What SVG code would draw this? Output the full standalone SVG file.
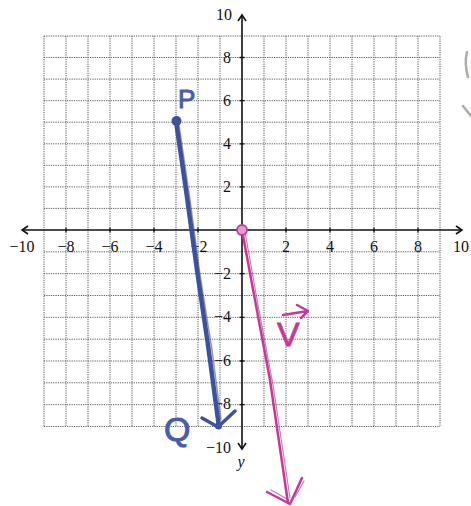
<svg xmlns="http://www.w3.org/2000/svg" width="471" height="506" viewBox="0 0 471 506">
<style>
.grid line{stroke:#5a5a5a;stroke-width:1;stroke-dasharray:1.2 1.1}
.axis{stroke:#111;stroke-width:1.6;fill:none}
.tick{stroke:#111;stroke-width:1.3}
.num{font-family:"Liberation Serif","DejaVu Serif",serif;font-size:16px;fill:#111}
.blue{stroke:#3d519c;fill:none;stroke-linecap:round;stroke-linejoin:round}
.pink{stroke:#c23a98;fill:none;stroke-linecap:round;stroke-linejoin:round}
.hand{font-family:"Liberation Sans","DejaVu Sans",sans-serif}
</style>
<rect width="471" height="506" fill="#fff"/>
<g class="grid" id="grid">
<line x1="44" y1="36" x2="44" y2="426.5"/><line x1="66" y1="36" x2="66" y2="426.5"/><line x1="88" y1="36" x2="88" y2="426.5"/><line x1="110" y1="36" x2="110" y2="426.5"/><line x1="132" y1="36" x2="132" y2="426.5"/><line x1="154" y1="36" x2="154" y2="426.5"/><line x1="176" y1="36" x2="176" y2="426.5"/><line x1="198" y1="36" x2="198" y2="426.5"/><line x1="220" y1="36" x2="220" y2="426.5"/><line x1="264" y1="36" x2="264" y2="426.5"/><line x1="286" y1="36" x2="286" y2="426.5"/><line x1="308" y1="36" x2="308" y2="426.5"/><line x1="330" y1="36" x2="330" y2="426.5"/><line x1="352" y1="36" x2="352" y2="426.5"/><line x1="374" y1="36" x2="374" y2="426.5"/><line x1="396" y1="36" x2="396" y2="426.5"/><line x1="418" y1="36" x2="418" y2="426.5"/><line x1="440" y1="36" x2="440" y2="426.5"/>
<line x1="44" y1="36" x2="440" y2="36"/><line x1="44" y1="57.5" x2="440" y2="57.5"/><line x1="44" y1="79.1" x2="440" y2="79.1"/><line x1="44" y1="100.7" x2="440" y2="100.7"/><line x1="44" y1="122.2" x2="440" y2="122.2"/><line x1="44" y1="143.8" x2="440" y2="143.8"/><line x1="44" y1="165.3" x2="440" y2="165.3"/><line x1="44" y1="186.9" x2="440" y2="186.9"/><line x1="44" y1="208.4" x2="440" y2="208.4"/>
<line x1="44" y1="251.8" x2="440" y2="251.8"/><line x1="44" y1="273.7" x2="440" y2="273.7"/><line x1="44" y1="295.5" x2="440" y2="295.5"/><line x1="44" y1="317.3" x2="440" y2="317.3"/><line x1="44" y1="339.2" x2="440" y2="339.2"/><line x1="44" y1="361" x2="440" y2="361"/><line x1="44" y1="382.8" x2="440" y2="382.8"/><line x1="44" y1="404.7" x2="440" y2="404.7"/><line x1="44" y1="426.5" x2="440" y2="426.5"/>
</g>
<g id="axes">
<line class="axis" x1="22" y1="230" x2="462" y2="230"/>
<line class="axis" x1="242" y1="15" x2="242" y2="449"/>
<path class="axis" d="M28 226 L22 230 L28 234 M456 226 L462 230 L456 234 M238 21 L242 15 L246 21 M238 443 L242 449 L246 443"/>
<path class="tick" d="M66 227.5v5M110 227.5v5M154 227.5v5M198 227.5v5M286 227.5v5M330 227.5v5M374 227.5v5M418 227.5v5M239.5 57.5h5M239.5 100.7h5M239.5 143.8h5M239.5 186.9h5M239.5 273.7h5M239.5 317.3h5M239.5 361h5M239.5 404.7h5"/>
</g>
<g id="axis-labels" class="num">
<text x="22" y="252" text-anchor="middle">−10</text>
<text x="66" y="252" text-anchor="middle">−8</text>
<text x="110" y="252" text-anchor="middle">−6</text>
<text x="154" y="252" text-anchor="middle">−4</text>
<text x="199" y="252" text-anchor="middle">−2</text>
<text x="286" y="252" text-anchor="middle">2</text>
<text x="330" y="252" text-anchor="middle">4</text>
<text x="374" y="252" text-anchor="middle">6</text>
<text x="418" y="252" text-anchor="middle">8</text>
<text x="461" y="252" text-anchor="middle">10</text>
<text x="232" y="20" text-anchor="end">10</text>
<text x="231" y="63" text-anchor="end">8</text>
<text x="231" y="106" text-anchor="end">6</text>
<text x="231" y="149" text-anchor="end">4</text>
<text x="231" y="192" text-anchor="end">2</text>
<text x="231" y="279" text-anchor="end">−2</text>
<text x="231" y="322" text-anchor="end">−4</text>
<text x="231" y="366" text-anchor="end">−6</text>
<text x="231" y="409" text-anchor="end">−8</text>
<text x="231" y="453" text-anchor="end">−10</text>
<text x="241" y="467" text-anchor="middle" font-style="italic">y</text>
</g>
<g id="connectors">
<path class="blue" stroke-width="4.5" d="M176 121 L186 190 L197 270 L208 345 L219 427"/>
<path class="blue" stroke-width="1.5" opacity="0.6" d="M179 125 L190 200 L200 275 L212 350 L221 420"/>
<path class="blue" stroke-width="3.5" d="M202 418 L218 427 L235 411"/>
<path class="pink" stroke-width="2.5" d="M242 230 L255 300 L270 380 L288 503"/>
<path class="pink" stroke-width="1.2" opacity="0.7" d="M245 232 L258 305 L273 385 L290 498"/>
<path class="pink" stroke-width="2.5" d="M267 492 L290 504 L302 478"/>
<path class="pink" stroke-width="1.2" opacity="0.7" d="M271 490 L289 500 M295 497 L304 481"/>
</g>
<g id="node-P">
<circle cx="176.5" cy="121" r="5" fill="#3d519c"/>
<text class="hand" x="178" y="108" font-size="26" fill="#4a5ca8" stroke="#4a5ca8" stroke-width="1">P</text>
</g>
<g id="node-Q">
<circle cx="218.5" cy="426" r="3.5" fill="#3d519c"/>
<text class="hand" x="164" y="441" font-size="34" fill="#4a5ca8" stroke="#4a5ca8" stroke-width="1">Q</text>
</g>
<g id="node-O">
<circle cx="242" cy="230" r="5" fill="#e59ad0" stroke="#c23a98" stroke-width="1.8"/>
</g>
<g id="label-v">
<path class="pink" stroke-width="2.5" d="M283 315 L308 311 M297 305 L308 311 L301 318"/>
<text class="hand" x="277" y="346" font-size="34" fill="#c23a98" stroke="#c23a98" stroke-width="0.8">V</text>
</g>
<g id="scraps" stroke="#9a9a90" stroke-width="2.5" fill="none" stroke-linecap="round" opacity="0.8">
<path d="M467 52 C465 60 466 70 468 77"/>
<path d="M463 106 L471 116"/>
</g>
</svg>
